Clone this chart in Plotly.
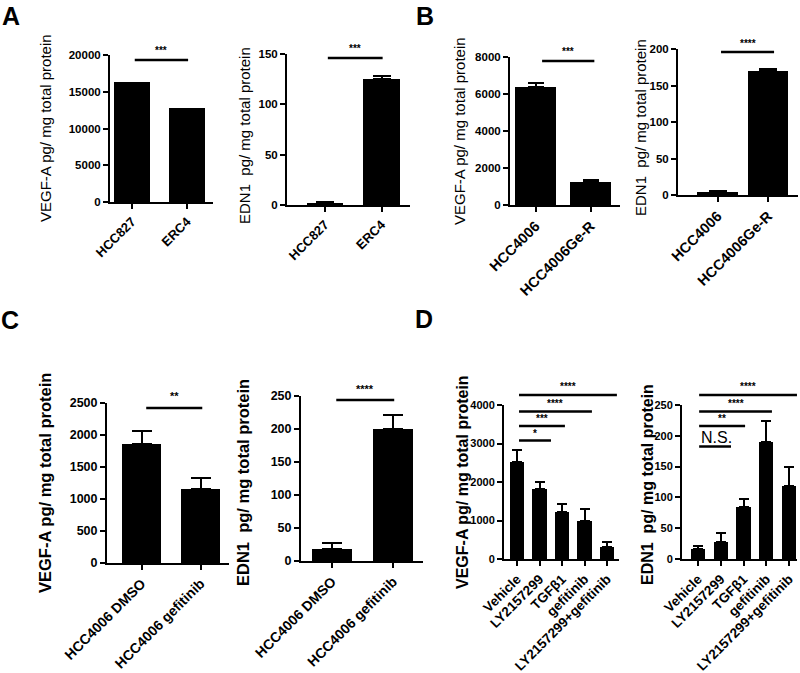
import plotly.graph_objects as go

W, H = 800, 673

# ---------------- data ----------------
a_cats = ["HCC827", "ERC4"]
a_vegf = [16100, 12500]
a_vegf_err = [150, 150]
a_edn1 = [2, 125]
a_edn1_err = [0.6, 3]

b_cats = ["HCC4006", "HCC4006Ge-R"]
b_vegf = [6400, 1270]
b_vegf_err = [200, 60]
b_edn1 = [4.5, 170]
b_edn1_err = [1.5, 2]

c_cats = ["HCC4006 DMSO", "HCC4006 gefitinib"]
c_vegf = [1860, 1160]
c_vegf_err = [200, 170]
c_edn1 = [18, 200]
c_edn1_err = [10, 21]

d_cats = ["Vehicle", "LY2157299", "TGFβ1", "gefitinib", "LY2157299+gefitinib"]
d_vegf = [2530, 1820, 1230, 1000, 300]
d_vegf_err = [300, 170, 210, 300, 130]
d_edn1 = [17, 27, 85, 190, 119]
d_edn1_err = [4, 15, 13, 34, 30]

vegf_title = "VEGF-A pg/ mg total protein"
edn1_title = "EDN1  pg/ mg total protein"

a_vegf_sig = ["***"]
a_edn1_sig = ["***"]
b_vegf_sig = ["***"]
b_edn1_sig = ["****"]
c_vegf_sig = ["**"]
c_edn1_sig = ["****"]
d_vegf_sig = ["*", "***", "****", "****"]
d_edn1_sig = ["N.S.", "**", "****", "****"]

panel_letters = ["A", "B", "C", "D"]

# ---------------- layout geometry (pixels) ----------------
panels = [
    dict(cats=a_cats, vals=a_vegf, errs=a_vegf_err, ymax=20000, dtick=5000,
         xl=110, xr=213, c0=132, unit=55, y0=202, yt=55, bw=0.65, cap=18,
         title=vegf_title, tx=45, ty=128, tsize=15, tbold=False, tfs=11.5, cfs=13,
         sig=a_vegf_sig, br=[(0.05, 1.02, 60, 51)], sfs=10),
    dict(cats=a_cats, vals=a_edn1, errs=a_edn1_err, ymax=150, dtick=50,
         xl=287, xr=410, c0=325, unit=56.5, y0=205, yt=54, bw=0.65, cap=9,
         title=edn1_title, tx=245, ty=136, tsize=15, tbold=False, tfs=11.5, cfs=13,
         sig=a_edn1_sig, br=[(0.05, 1.02, 58, 49)], sfs=10),
    dict(cats=b_cats, vals=b_vegf, errs=b_vegf_err, ymax=8000, dtick=2000,
         xl=510, xr=620, c0=535.5, unit=55, y0=205, yt=57, bw=0.76, cap=8,
         title=vegf_title, tx=460, ty=131, tsize=15, tbold=False, tfs=11.5, cfs=14.5,
         sig=b_vegf_sig, br=[(0.12, 1.07, 61, 52)], sfs=10),
    dict(cats=b_cats, vals=b_edn1, errs=b_edn1_err, ymax=200, dtick=50,
         xl=678, xr=798, c0=717.5, unit=50.5, y0=195, yt=49, bw=0.8, cap=9,
         title=edn1_title, tx=640, ty=128, tsize=15, tbold=False, tfs=11.5, cfs=14.5,
         sig=b_edn1_sig, br=[(0.07, 1.12, 52, 43)], sfs=10),
    dict(cats=c_cats, vals=c_vegf, errs=c_vegf_err, ymax=2500, dtick=500,
         xl=107, xr=229, c0=141.5, unit=59, y0=563, yt=403, bw=0.66, cap=10,
         title=vegf_title, tx=45, ty=483, tsize=16.5, tbold=True, tfs=12.5, cfs=14,
         sig=c_vegf_sig, br=[(0.08, 1.03, 408, 396)], sfs=11),
    dict(cats=c_cats, vals=c_edn1, errs=c_edn1_err, ymax=250, dtick=50,
         xl=301, xr=423, c0=332, unit=61, y0=561, yt=396, bw=0.66, cap=10,
         title=edn1_title, tx=243, ty=483, tsize=16.5, tbold=True, tfs=12.5, cfs=14,
         sig=c_edn1_sig, br=[(0.07, 1.02, 400, 389)], sfs=11),
    dict(cats=d_cats, vals=d_vegf, errs=d_vegf_err, ymax=4000, dtick=1000,
         xl=504, xr=619, c0=517, unit=22.5, y0=559, yt=405, bw=0.63, cap=5,
         title=vegf_title, tx=462, ty=482, tsize=16, tbold=True, tfs=11, cfs=13.5,
         sig=d_vegf_sig,
         br=[(0.09, 1.51, 440.5, 433), (0.09, 2.13, 426, 418.5),
             (0.09, 3.33, 411.5, 403.5), (0.09, 4.44, 395, 386.5)], sfs=10),
    dict(cats=d_cats, vals=d_edn1, errs=d_edn1_err, ymax=250, dtick=50,
         xl=682, xr=797, c0=698, unit=22.75, y0=559, yt=405, bw=0.63, cap=5,
         title=edn1_title, tx=647, ty=485, tsize=16, tbold=True, tfs=11, cfs=13.5,
         sig=d_edn1_sig,
         br=[(0.05, 1.45, 446.5, 437.5), (0.05, 2.07, 426, 418.5),
             (0.05, 3.25, 411.5, 403.5), (0.05, 4.35, 395, 386.5)], sfs=10),
]

letter_pos = [(11, 0), (425, 0), (10, 304), (424, 303)]

FONT = "Liberation Sans"

fig = go.Figure()
shapes = []
annotations = []


def px2x(px):
    return px / W


def px2y(py):
    return 1 - py / H


for i, p in enumerate(panels):
    k = "" if i == 0 else str(i + 1)
    n = len(p["cats"])
    r0 = (p["xl"] - p["c0"]) / p["unit"]
    r1 = (p["xr"] - p["c0"]) / p["unit"]
    xd = [px2x(p["xl"]), px2x(p["xr"])]
    yd = [px2y(p["y0"]), px2y(p["yt"])]

    fig.add_trace(go.Bar(
        x=p["cats"], y=p["vals"], width=p["bw"],
        marker=dict(color="black", line=dict(width=0)),
        error_y=dict(type="data", array=p["errs"], arrayminus=[0] * n,
                     symmetric=False, color="black", thickness=2, width=p["cap"]),
        xaxis="x" + k, yaxis="y" + k, showlegend=False,
    ))

    fig.layout["xaxis" + k] = dict(
        domain=xd, anchor="y" + k, range=[r0, r1], type="category",
        automargin=False,
        showline=True, linecolor="black", linewidth=2,
        ticks="outside", ticklen=5, tickwidth=2, tickcolor="black",
        tickangle=-45, showgrid=False, zeroline=False, fixedrange=True,
        tickfont=dict(family=FONT, size=p["cfs"], color="black", weight="bold"),
    )
    fig.layout["yaxis" + k] = dict(
        domain=yd, anchor="x" + k, range=[0, p["ymax"]], dtick=p["dtick"], tick0=0,
        automargin=False, tickformat="d",
        showline=True, linecolor="black", linewidth=2,
        ticks="outside", ticklen=5, tickwidth=2, tickcolor="black",
        showgrid=False, zeroline=False, fixedrange=True,
        tickfont=dict(family=FONT, size=p["tfs"], color="black", weight="bold"),
    )

    # y title
    annotations.append(dict(
        text=p["title"], textangle=-90, xref="paper", yref="paper",
        x=px2x(p["tx"]), y=px2y(p["ty"]), showarrow=False,
        xanchor="center", yanchor="middle",
        font=dict(family=FONT, size=p["tsize"], color="black",
                  weight="bold" if p["tbold"] else "normal"),
    ))

    # significance brackets
    for lab, (a, b, ly, ty) in zip(p["sig"], p["br"]):
        xa = xd[0] + (a - r0) / (r1 - r0) * (xd[1] - xd[0])
        xb = xd[0] + (b - r0) / (r1 - r0) * (xd[1] - xd[0])
        shapes.append(dict(type="line", xref="paper", yref="paper",
                           x0=xa, x1=xb, y0=px2y(ly), y1=px2y(ly),
                           line=dict(color="black", width=2.5)))
        ns = lab == "N.S."
        annotations.append(dict(
            text=lab, xref="paper", yref="paper",
            x=(xa + xb) / 2 if not ns else xa, y=px2y(ty), showarrow=False,
            xanchor="center" if not ns else "left", yanchor="middle",
            font=dict(family=FONT, size=16 if ns else p["sfs"], color="black",
                      weight="normal" if ns else "bold"),
        ))

for lab, (lx, ly) in zip(panel_letters, letter_pos):
    annotations.append(dict(
        text=lab, xref="paper", yref="paper", x=px2x(lx), y=px2y(ly),
        showarrow=False, xanchor="center", yanchor="top",
        font=dict(family=FONT, size=25, color="black", weight="bold"),
    ))

fig.update_layout(
    template="none",
    width=W, height=H, margin=dict(l=0, r=0, t=0, b=0, autoexpand=False),
    paper_bgcolor="white", plot_bgcolor="white",
    shapes=shapes, annotations=annotations, bargap=0,
    font=dict(family=FONT, color="black"),
)

fig.write_html("out.html", config={"displayModeBar": False},
               post_script="document.body.style.margin='0px';document.body.style.overflow='hidden';")
